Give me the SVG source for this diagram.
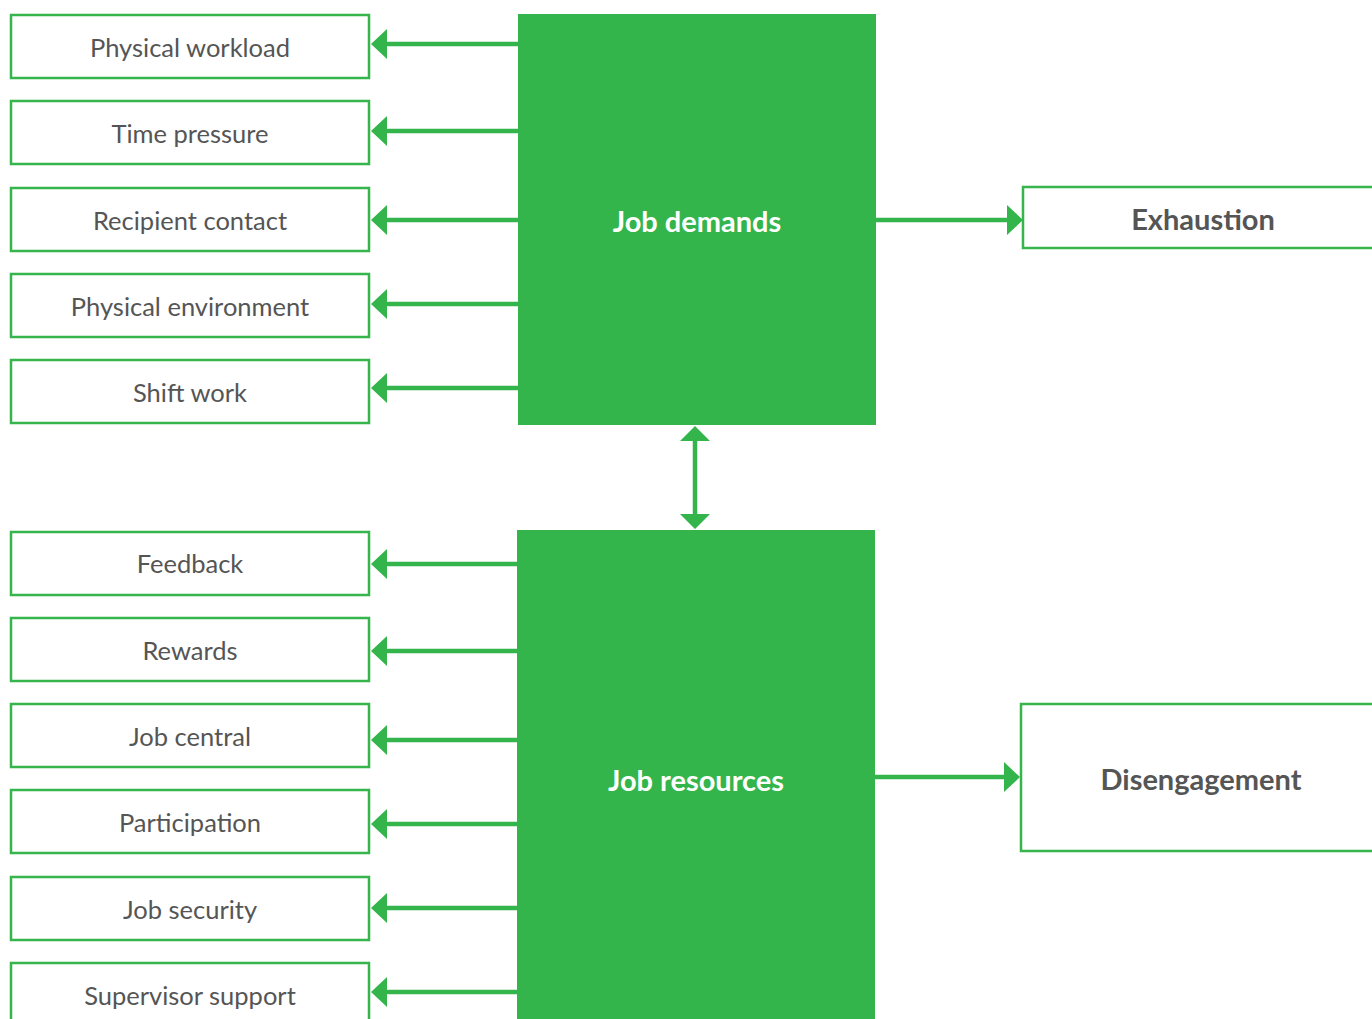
<svg xmlns="http://www.w3.org/2000/svg" width="1372" height="1019" viewBox="0 0 1372 1019">
<defs>
<style>
.box{fill:#fff;stroke:#35b54b;stroke-width:2.5}
.big{fill:#33b54b}
.lbl{font-family:Lato,"Noto Sans",sans-serif;font-size:25.5px;fill:#555;text-anchor:middle;dominant-baseline:central}
.blbl{font-family:Lato,"Noto Sans",sans-serif;font-size:29px;font-weight:bold;text-anchor:middle;dominant-baseline:central}
.ln{stroke:#33b54b;stroke-width:4.5;fill:none}
.hd{fill:#33b54b}
</style>
</defs>
<rect width="1372" height="1019" fill="#fff"/>
<g id="job-demands"><rect class="big" x="518" y="14" width="358" height="411"/><text class="blbl" x="697" y="220" fill="#fff">Job demands</text></g>
<g id="job-resources"><rect class="big" x="517" y="530" width="358" height="495"/><text class="blbl" x="696" y="779" fill="#fff">Job resources</text></g>
<g id="physical-workload"><rect class="box" x="11" y="15" width="358" height="63"/><text class="lbl" x="190" y="47">Physical workload</text></g>
<g id="time-pressure"><rect class="box" x="11" y="101" width="358" height="63"/><text class="lbl" x="190" y="133">Time pressure</text></g>
<g id="recipient-contact"><rect class="box" x="11" y="188" width="358" height="63"/><text class="lbl" x="190" y="220">Recipient contact</text></g>
<g id="physical-environment"><rect class="box" x="11" y="274" width="358" height="63"/><text class="lbl" x="190" y="306">Physical environment</text></g>
<g id="shift-work"><rect class="box" x="11" y="360" width="358" height="63"/><text class="lbl" x="190" y="392">Shift work</text></g>
<g id="feedback"><rect class="box" x="11" y="532" width="358" height="63"/><text class="lbl" x="190" y="563">Feedback</text></g>
<g id="rewards"><rect class="box" x="11" y="618" width="358" height="63"/><text class="lbl" x="190" y="650">Rewards</text></g>
<g id="job-central"><rect class="box" x="11" y="704" width="358" height="63"/><text class="lbl" x="190" y="736">Job central</text></g>
<g id="participation"><rect class="box" x="11" y="790" width="358" height="63"/><text class="lbl" x="190" y="822">Participation</text></g>
<g id="job-security"><rect class="box" x="11" y="877" width="358" height="63"/><text class="lbl" x="190" y="909">Job security</text></g>
<g id="supervisor-support"><rect class="box" x="11" y="963" width="358" height="63"/><text class="lbl" x="190" y="995">Supervisor support</text></g>
<g id="exhaustion"><rect class="box" x="1023" y="187" width="360" height="61"/><text class="blbl" x="1203" y="218" fill="#555">Exhaustion</text></g>
<g id="disengagement"><rect class="box" x="1021" y="704" width="360" height="147"/><text class="blbl" x="1201" y="778" fill="#555">Disengagement</text></g>
<g id="connectors">
<path class="ln" d="M518 44H385M518 131H385M518 220H385M518 304H385M518 388H385M517 564H385M517 651H385M517 740H385M517 824H385M517 908H385M517 992H385"/>
<path class="hd" d="M371 44l16-15v30zM371 131l16-15v30zM371 220l16-15v30zM371 304l16-15v30zM371 388l16-15v30zM371 564l16-15v30zM371 651l16-15v30zM371 740l16-15v30zM371 824l16-15v30zM371 908l16-15v30zM371 992l16-15v30z"/>
<path class="ln" d="M876 220H1010M875 777H1006"/>
<path class="hd" d="M1023 220l-16-15v30zM1020 777l-16-15v30z"/>
<path class="ln" d="M695 438V518"/>
<path class="hd" d="M695 426l15 15h-30zM695 529l15-15h-30z"/>
</g>
</svg>
